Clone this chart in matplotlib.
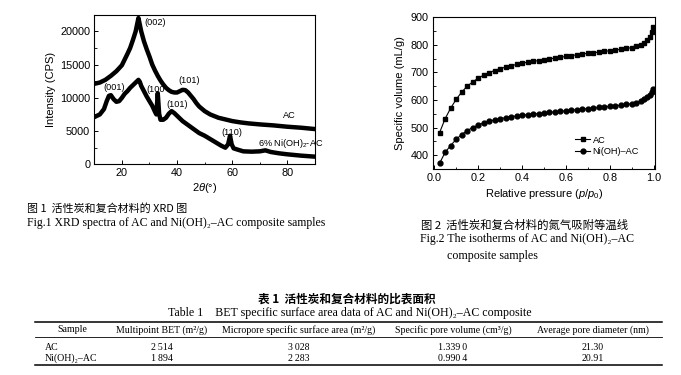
import matplotlib
matplotlib.use("Agg")
import matplotlib.pyplot as plt
from matplotlib.lines import Line2D
from matplotlib.ticker import MultipleLocator

plt.rcParams['font.family'] = ['Liberation Sans', 'DejaVu Sans']
plt.rcParams['mathtext.fontset'] = 'custom'
plt.rcParams['mathtext.rm'] = 'Liberation Sans'
plt.rcParams['mathtext.it'] = 'Liberation Sans:italic'

# ---------------- XRD data ----------------
ac_2theta = [10, 12, 14, 16, 18, 20, 22, 23, 24, 25, 25.6, 26, 26.5, 27, 28, 29, 30, 31, 32,
             33, 34, 35, 36, 37, 38, 39, 40, 41, 42, 43, 44, 45, 46, 47, 48, 50, 52, 55, 58,
             60, 63, 66, 70, 75, 80, 85, 90]
ac_int = [12100, 12300, 12700, 13300, 14000, 14900, 16600, 17500, 18700, 20000, 21200, 22000,
          21000, 20000, 18500, 17300, 16200, 15000, 14100, 13300, 12600, 12000, 11500, 11150,
          10900, 10800, 10800, 11000, 11200, 11150, 10800, 10300, 9800, 9200, 8700, 8000, 7500,
          7000, 6700, 6500, 6300, 6150, 6000, 5850, 5650, 5500, 5300]

ni_2theta = [10, 12, 13.5, 14.5, 15.3, 16, 17, 18, 19, 20, 21, 22, 23, 24, 25, 26, 26.5, 27,
             28, 29, 30, 31, 32, 32.5, 33.0, 33.5, 34, 35, 36, 37, 38, 39, 40, 42, 44, 46, 48,
             50, 52, 54, 56, 57.5, 58.5, 59.2, 59.8, 60.5, 62, 64, 67, 70, 72, 74, 77, 80, 85, 90]
ni_int = [7100, 7500, 8300, 9500, 10300, 10400, 9800, 9400, 9500, 10000, 10600, 11000, 11500,
          11900, 12300, 12700, 12400, 11800, 11000, 10200, 9500, 8800, 7900, 7500, 10700, 7600,
          6700, 6700, 7000, 7600, 8000, 7700, 7300, 6500, 5900, 5300, 4700, 4300, 3800, 3300,
          2800, 2500, 3000, 4300, 3000, 2400, 2200, 1950, 1900, 1950, 2100, 1850, 1650, 1500,
          1300, 1150]

# ---------------- isotherm data ----------------
p_ac = [0.025, 0.05, 0.075, 0.10, 0.125, 0.15, 0.175, 0.20, 0.225, 0.25, 0.275, 0.30, 0.325,
        0.35, 0.375, 0.40, 0.425, 0.45, 0.475, 0.50, 0.525, 0.55, 0.575, 0.60, 0.625, 0.65,
        0.675, 0.70, 0.725, 0.75, 0.775, 0.80, 0.825, 0.85, 0.875, 0.90, 0.92, 0.94, 0.955,
        0.97, 0.98, 0.99, 0.997]
v_ac = [482, 532, 570, 602, 628, 650, 665, 679, 690, 699, 707, 714, 719, 724, 729, 733, 737,
        740, 743, 746, 749, 752, 755, 758, 761, 764, 767, 769, 771, 774, 776, 779, 781, 784,
        787, 790, 794, 799, 807, 818, 828, 845, 866]
p_ni = p_ac
v_ni = [371, 410, 435, 457, 475, 489, 500, 509, 517, 523, 528, 532, 536, 539, 542, 545, 547,
        549, 551, 553, 555, 557, 559, 561, 563, 565, 567, 569, 571, 573, 575, 577, 579, 581,
        584, 587, 591, 596, 602, 610, 618, 628, 640]

# ---------------- table data ----------------
table_headers = ["Sample", "Multipoint BET (m\u00b2/g)", "Micropore specific surface area (m\u00b2/g)",
                 "Specific pore volume (cm\u00b3/g)", "Average pore diameter (nm)"]
table_samples = ["AC", "Ni(OH)\u2082\u2013AC"]
bet_area = ["2\u2009514", "1\u2009894"]
micro_area = ["3\u2009028", "2\u2009283"]
pore_volume = ["1.339\u20090", "0.990\u20094"]
pore_diam = ["21.30", "20.91"]

W, H = 681, 375
fig = plt.figure(figsize=(W / 100, H / 100), dpi=100)
fig.patch.set_facecolor('white')

def fx(px):
    return px / W

def fy(py):
    return 1 - py / H

tick_fs = 7.8
lab_fs = 8.0

# ---------- left: XRD ----------
ax1 = fig.add_axes([fx(94.3), fy(164.3), fx(315) - fx(94.3), fy(14.7) - fy(164.3)])
ax1.plot(ac_2theta, ac_int, color='black', lw=3.2, solid_joinstyle='round')
ax1.plot(ni_2theta, ni_int, color='black', lw=3.2, solid_joinstyle='round')
ax1.set_xlim(10, 90)
ax1.set_ylim(0, 22500)
ax1.xaxis.set_major_locator(MultipleLocator(20))
ax1.xaxis.set_minor_locator(MultipleLocator(10))
ax1.yaxis.set_major_locator(MultipleLocator(5000))
ax1.yaxis.set_minor_locator(MultipleLocator(2500))
ax1.set_ylabel("Intensity (CPS)", fontsize=lab_fs, labelpad=3)
ax1.set_xlabel(r"$2\theta$(°)", fontsize=lab_fs, labelpad=2)
ann_fs = 6.6
ax1.text(28, 21400, "(002)", fontsize=ann_fs, va='center')
ax1.text(40.4, 12560, "(101)", fontsize=ann_fs, va='center')
ax1.text(13.3, 11560, "(001)", fontsize=ann_fs, va='center')
ax1.text(28.8, 11200, "(100", fontsize=ann_fs, va='center')
ax1.text(36.0, 9050, "(101)", fontsize=ann_fs, va='center')
ax1.text(56.0, 4770, "(110)", fontsize=ann_fs, va='center')
ax1.text(78.5, 7290, "AC", fontsize=ann_fs, va='center')
ax1.text(69.5, 3070, "6% Ni(OH)$_2$-AC", fontsize=ann_fs, va='center')

# ---------- right: isotherms ----------
ax2 = fig.add_axes([fx(433), fy(169), fx(655) - fx(433), fy(16.7) - fy(169)])
ax2.plot(p_ac, v_ac, color='black', lw=0.8, marker='s', ms=3.3, label='AC')
ax2.plot(p_ni, v_ni, color='black', lw=0.8, marker='o', ms=3.5, label='Ni(OH)\u2013AC')
ax2.set_xlim(-0.005, 1.005)
ax2.set_ylim(350, 902)
ax2.xaxis.set_major_locator(MultipleLocator(0.2))
ax2.xaxis.set_minor_locator(MultipleLocator(0.1))
ax2.yaxis.set_major_locator(MultipleLocator(100))
ax2.yaxis.set_minor_locator(MultipleLocator(50))
ax2.xaxis.set_major_formatter(matplotlib.ticker.FormatStrFormatter('%.1f'))
ax2.set_ylabel("Specific volume (mL/g)", fontsize=lab_fs, labelpad=4)
ax2.set_xlabel(r"Relative pressure ($p/p_0$)", fontsize=lab_fs, labelpad=3)
ax2.legend(loc='upper left', bbox_to_anchor=(0.62, 0.25), frameon=False, fontsize=6.6,
           handlelength=1.6, handletextpad=0.3, labelspacing=0.25, borderpad=0)

for ax in (ax1, ax2):
    ax.tick_params(which='both', direction='in', labelsize=tick_fs, pad=3)
    ax.tick_params(which='major', length=3.2, width=0.7)
    ax.tick_params(which='minor', length=1.8, width=0.6)
    for s in ax.spines.values():
        s.set_linewidth(0.8)

# ---------- captions ----------
cjk = ['Noto Sans CJK SC', 'Liberation Serif']
serif = ['Liberation Serif', 'DejaVu Serif']
fig.text(fx(27), fy(209), "图 1  活性炭和复合材料的 XRD 图", family=cjk, fontsize=7.9, va='center')
fig.text(fx(27), fy(223), "Fig.1 XRD spectra of AC and Ni(OH)\u2082\u2013AC composite samples",
         family=serif, fontsize=8.5, va='center')
fig.text(fx(421), fy(225), "图 2  活性炭和复合材料的氮气吸附等温线", family=cjk, fontsize=8.2, va='center')
fig.text(fx(420), fy(239), "Fig.2 The isotherms of AC and Ni(OH)\u2082\u2013AC",
         family=serif, fontsize=8.6, va='center')
fig.text(fx(447), fy(256), "composite samples", family=serif, fontsize=8.6, va='center')

# ---------- table ----------
fig.text(fx(347), fy(299), "表 1  活性炭和复合材料的比表面积", family=cjk, fontsize=8.4,
         fontweight='bold', ha='center', va='center')
fig.text(fx(350), fy(313), "Table 1    BET specific surface area data of AC and Ni(OH)\u2082\u2013AC composite",
         family=serif, fontsize=8.6, ha='center', va='center')
x0, x1 = fx(35), fx(662)
fig.add_artist(Line2D([x0, x1], [fy(321.7)] * 2, color='black', lw=1.1))
fig.add_artist(Line2D([x0, x1], [fy(337.3)] * 2, color='black', lw=0.6))
fig.add_artist(Line2D([x0, x1], [fy(365)] * 2, color='black', lw=1.1))
col_centers = [72.7, 161.7, 299, 453, 592.5]
for c, h in zip(col_centers, table_headers):
    fig.text(fx(c), fy(330), h, family=serif, fontsize=7.1, ha='center', va='center')
row_y = [347, 358.5]
for i, ry in enumerate(row_y):
    fig.text(fx(45), fy(ry), table_samples[i], family=serif, fontsize=7.1, ha='left', va='center')
    vals = [bet_area[i], micro_area[i], pore_volume[i], pore_diam[i]]
    for c, v in zip(col_centers[1:], vals):
        fig.text(fx(c), fy(ry), v, family=serif, fontsize=7.1, ha='center', va='center')

fig.savefig("out.png", dpi=100, facecolor='white')
